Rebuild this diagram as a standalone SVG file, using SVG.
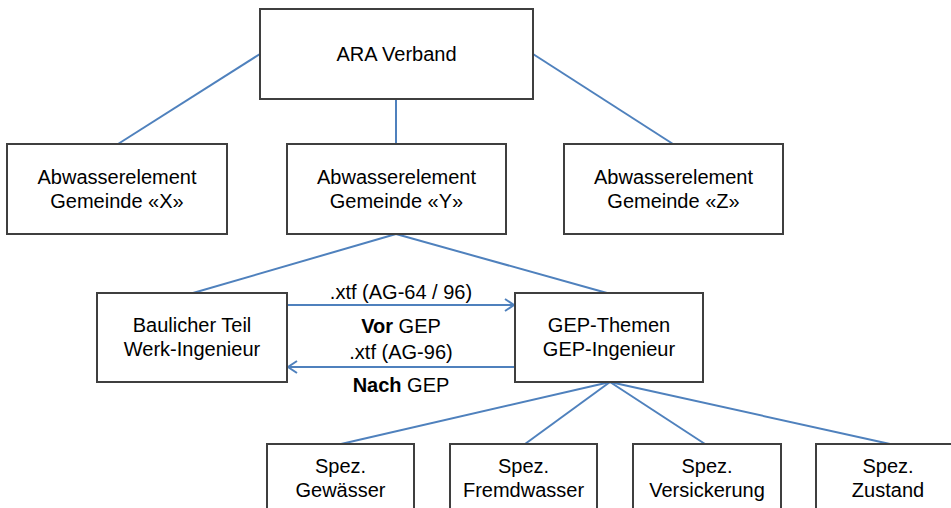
<svg xmlns="http://www.w3.org/2000/svg" width="951" height="508" viewBox="0 0 951 508">
<defs>
<style>
.box{fill:#fff;stroke:#3f3f3f;stroke-width:2}
.con{stroke:#4f81bd;stroke-width:2;fill:none}
text{font-family:"Liberation Sans",Arial,sans-serif;font-size:20px;fill:#000;text-anchor:middle}
.b{font-weight:bold}
</style>
<marker id="ah" markerWidth="14" markerHeight="14" refX="11" refY="7" orient="auto" markerUnits="userSpaceOnUse">
<path d="M2,1 L11,7 L2,13" fill="none" stroke="#4f81bd" stroke-width="2"/>
</marker>
</defs>
<rect width="951" height="508" fill="#fff"/>
<g id="connectors">
<line class="con" x1="260" y1="54" x2="118" y2="144"/>
<line class="con" x1="396" y1="99" x2="396" y2="144"/>
<line class="con" x1="533" y1="54" x2="673" y2="144"/>
<line class="con" x1="396" y1="234" x2="193" y2="293"/>
<line class="con" x1="396" y1="234" x2="607" y2="293"/>
<line class="con" x1="610" y1="382" x2="341" y2="444"/>
<line class="con" x1="610" y1="382" x2="525" y2="444"/>
<line class="con" x1="610" y1="382" x2="705" y2="444"/>
<line class="con" x1="610" y1="382" x2="890" y2="444"/>
<line class="con" x1="287" y1="305" x2="514" y2="305" marker-end="url(#ah)"/>
<line class="con" x1="515" y1="367" x2="288" y2="367" marker-end="url(#ah)"/>
<text x="401" y="299">.xtf (AG-64 / 96)</text>
<text x="401" y="333"><tspan class="b">Vor</tspan> GEP</text>
<text x="401" y="359">.xtf (AG-96)</text>
<text x="401" y="392"><tspan class="b">Nach</tspan> GEP</text>
</g>
<g id="ara">
<rect class="box" x="260" y="9" width="273" height="90"/>
<text x="396.5" y="61">ARA Verband</text>
</g>
<g id="gemX">
<rect class="box" x="7" y="144" width="220" height="90"/>
<text x="117" y="184">Abwasserelement</text>
<text x="117" y="208">Gemeinde «X»</text>
</g>
<g id="gemY">
<rect class="box" x="287" y="144" width="219" height="90"/>
<text x="396.5" y="184">Abwasserelement</text>
<text x="396.5" y="208">Gemeinde «Y»</text>
</g>
<g id="gemZ">
<rect class="box" x="564" y="144" width="219" height="90"/>
<text x="673.5" y="184">Abwasserelement</text>
<text x="673.5" y="208">Gemeinde «Z»</text>
</g>
<g id="baulich">
<rect class="box" x="97" y="293" width="190" height="89"/>
<text x="192" y="332">Baulicher Teil</text>
<text x="192" y="356">Werk-Ingenieur</text>
</g>
<g id="gep">
<rect class="box" x="515" y="293" width="188" height="89"/>
<text x="609" y="332">GEP-Themen</text>
<text x="609" y="356">GEP-Ingenieur</text>
</g>
<g id="gewaesser">
<rect class="box" x="267" y="444" width="147" height="80"/>
<text x="340.5" y="473">Spez.</text>
<text x="340.5" y="497">Gewässer</text>
</g>
<g id="fremdwasser">
<rect class="box" x="450" y="444" width="147" height="80"/>
<text x="523.5" y="473">Spez.</text>
<text x="523.5" y="497">Fremdwasser</text>
</g>
<g id="versickerung">
<rect class="box" x="633" y="444" width="148" height="80"/>
<text x="707" y="473">Spez.</text>
<text x="707" y="497">Versickerung</text>
</g>
<g id="zustand">
<rect class="box" x="816" y="444" width="148" height="80"/>
<text x="888" y="473">Spez.</text>
<text x="888" y="497">Zustand</text>
</g>
</svg>
